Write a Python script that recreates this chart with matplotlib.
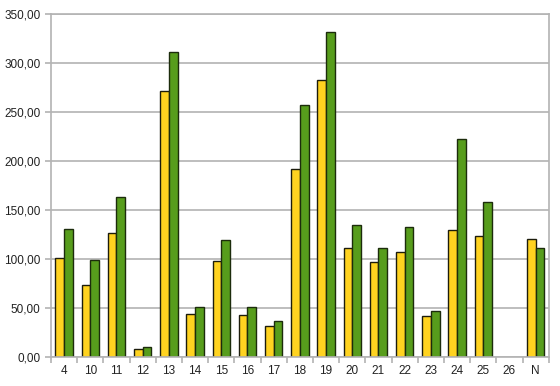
import matplotlib.pyplot as plt
import numpy as np
from matplotlib.ticker import FuncFormatter, FixedLocator

categories = ["4", "10", "11", "12", "13", "14", "15", "16", "17",
              "18", "19", "20", "21", "22", "23", "24", "25", "26", "N"]

# category 26 has no bars
yellow_vals = [101, 73, 126, 8, 271, 44, 98, 42, 31, 191, 282,
               111, 97, 107, 41, 129, 123, np.nan, 120]
green_vals = [130, 99, 163, 10, 311, 51, 119, 51, 36, 257, 331,
              134, 111, 132, 47, 222, 158, np.nan, 111]

fig = plt.figure(figsize=(5.6, 3.86), dpi=100)
ax = fig.add_axes([0.091, 0.076, 0.889, 0.889])

x = np.arange(len(categories))
w = 0.33
ax.bar(x - w / 2, yellow_vals, w, color="#ffd320", edgecolor="#1c1c0c",
       linewidth=1.0, zorder=3)
ax.bar(x + w / 2, green_vals, w, color="#579d1c", edgecolor="#1c2c0c",
       linewidth=1.0, zorder=3)

ax.set_xlim(-0.5, len(categories) - 0.5)
ax.set_ylim(0, 350)
ax.set_yticks(np.arange(0, 351, 50))
ax.yaxis.set_major_formatter(FuncFormatter(lambda v, p: f"{v:.2f}".replace(".", ",")))
ax.set_xticks(x)
ax.set_xticklabels(categories)
ax.xaxis.set_minor_locator(FixedLocator(np.arange(-0.5, len(categories), 1)))

ax.grid(axis="y", color="#b3b3b3", linewidth=1.2, zorder=0)
for s in ["left", "right", "top", "bottom"]:
    ax.spines[s].set_color("#b3b3b3")
    ax.spines[s].set_linewidth(1.2)
ax.spines["bottom"].set_zorder(4)

ax.tick_params(axis="x", which="major", length=0, pad=6, labelsize=8.5,
               labelcolor="#222222")
ax.tick_params(axis="x", which="minor", length=4, color="#b3b3b3", width=1.2)
ax.tick_params(axis="y", length=4, color="#b3b3b3", width=1.2, labelsize=8.5,
               labelcolor="#222222", direction="out")
for lbl in ax.get_xticklabels() + ax.get_yticklabels():
    lbl.set_family(["Liberation Sans", "DejaVu Sans"])

fig.savefig("out.png", dpi=100)
